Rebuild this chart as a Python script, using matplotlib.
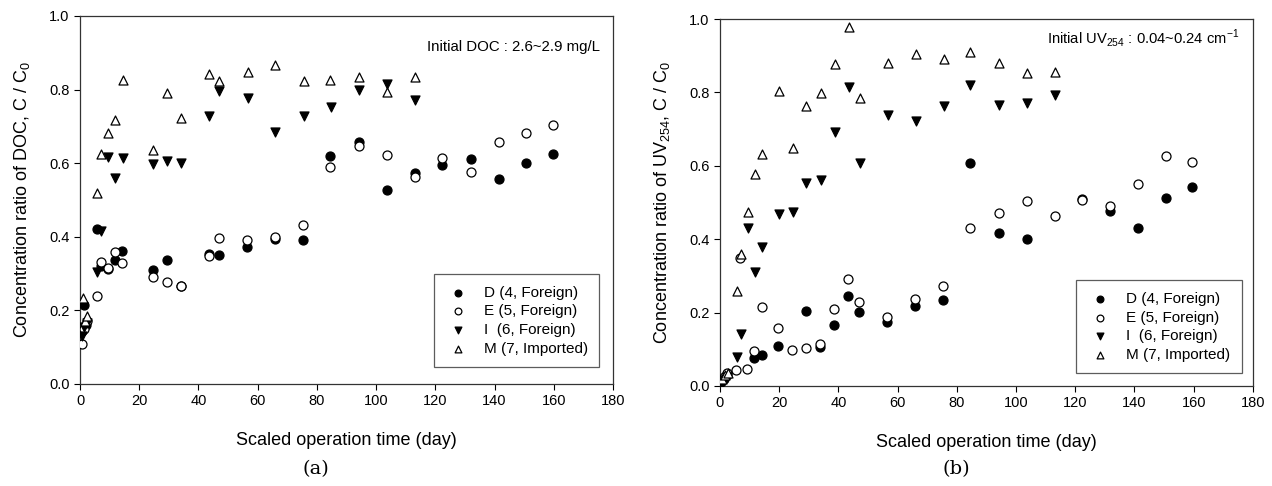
"""
DOC and UV254 concentration ratio vs scaled operation time
"""

import matplotlib.pyplot as plt
import numpy as np

plt.rcParams['font.family'] = ['Liberation Sans', 'DejaVu Sans']
plt.rcParams['mathtext.fontset'] = 'custom'
plt.rcParams['mathtext.rm'] = 'Liberation Sans'

############### Data (a) DOC ################
doc_d_day = [0.8, 1.2, 2.0, 5.6, 7.1, 9.5, 11.8, 14.3, 24.7, 29.4, 34.0, 43.4, 47.0, 56.5, 66.0, 75.3,
             84.5, 94.3, 103.8, 113.1, 122.1, 131.9, 141.4, 150.6, 159.6]
doc_d = [0.145, 0.215, 0.16, 0.421, 0.32, 0.312, 0.338, 0.362, 0.31, 0.336, 0.266, 0.354, 0.35, 0.372, 0.393, 0.392,
         0.62, 0.658, 0.527, 0.572, 0.595, 0.611, 0.557, 0.601, 0.625]

doc_e_day = [0.7, 1.5, 2.2, 5.6, 7.1, 9.5, 11.8, 14.3, 24.7, 29.4, 34.0, 43.4, 47.0, 56.5, 66.0, 75.3,
             84.5, 94.3, 103.8, 113.1, 122.1, 131.9, 141.4, 150.6, 159.6]
doc_e = [0.109, 0.15, 0.17, 0.239, 0.332, 0.315, 0.36, 0.33, 0.292, 0.276, 0.265, 0.347, 0.397, 0.39, 0.40, 0.432,
         0.59, 0.647, 0.622, 0.562, 0.613, 0.577, 0.658, 0.683, 0.704]

doc_i_day = [0.8, 1.5, 2.2, 5.6, 7.1, 9.5, 11.9, 14.4, 24.7, 29.5, 34.2, 43.5, 47.1, 56.7, 66.0, 75.5,
             84.7, 94.3, 103.8, 113.1]
doc_i = [0.13, 0.155, 0.165, 0.305, 0.415, 0.618, 0.559, 0.613, 0.598, 0.606, 0.60, 0.728, 0.796, 0.776, 0.685, 0.729,
         0.752, 0.799, 0.815, 0.772]

doc_m_day = [1.0, 1.8, 2.3, 5.7, 7.1, 9.5, 11.9, 14.4, 24.7, 29.5, 34.2, 43.5, 47.1, 56.7, 66.0, 75.5,
             84.5, 94.3, 103.8, 113.1]
doc_m = [0.235, 0.17, 0.185, 0.52, 0.625, 0.681, 0.717, 0.826, 0.636, 0.79, 0.722, 0.842, 0.822, 0.847, 0.867, 0.822,
         0.826, 0.835, 0.794, 0.835]

############### Data (b) UV254 ################
uv_d_day = [0.5, 1.5, 2.5, 11.6, 14.1, 19.7, 29.0, 33.9, 38.5, 43.3, 47.0, 56.4, 65.8, 75.3,
            84.3, 94.1, 103.6, 122.2, 131.8, 141.2, 150.6, 159.4]
uv_d = [0.01, 0.02, 0.03, 0.077, 0.084, 0.109, 0.204, 0.107, 0.167, 0.244, 0.202, 0.174, 0.217, 0.235,
        0.607, 0.418, 0.40, 0.51, 0.478, 0.43, 0.511, 0.543]

uv_e_day = [0.5, 1.5, 2.5, 5.4, 6.8, 9.3, 11.6, 14.1, 19.7, 24.5, 29.0, 33.9, 38.5, 43.3, 47.0, 56.4, 65.8, 75.3,
            84.3, 94.1, 103.6, 113.0, 122.2, 131.8, 141.2, 150.8, 159.3]
uv_e = [0.015, 0.025, 0.035, 0.044, 0.35, 0.047, 0.096, 0.214, 0.157, 0.098, 0.103, 0.114, 0.209, 0.292, 0.228, 0.187,
        0.236, 0.272, 0.43, 0.472, 0.505, 0.463, 0.507, 0.49, 0.55, 0.627, 0.611]

uv_i_day = [0.5, 1.5, 2.5, 5.6, 7.1, 9.5, 11.8, 14.1, 19.9, 24.7, 29.2, 34.0, 38.8, 43.6, 47.2, 56.7, 66.1, 75.5,
            84.3, 94.1, 103.7, 113.2]
uv_i = [0.005, 0.015, 0.025, 0.078, 0.142, 0.431, 0.311, 0.38, 0.47, 0.473, 0.552, 0.561, 0.693, 0.814, 0.608, 0.738,
        0.723, 0.763, 0.82, 0.766, 0.772, 0.793]

uv_m_day = [0.7, 1.7, 2.6, 5.8, 7.1, 9.5, 11.8, 14.1, 20.0, 24.7, 29.2, 34.0, 38.8, 43.6, 47.2, 56.7, 66.1, 75.5,
            84.3, 94.1, 103.7, 113.2]
uv_m = [0.02, 0.03, 0.036, 0.259, 0.36, 0.475, 0.578, 0.632, 0.804, 0.649, 0.763, 0.797, 0.877, 0.979, 0.786, 0.881,
        0.905, 0.89, 0.911, 0.881, 0.852, 0.856]

labels = ["D (4, Foreign)", "E (5, Foreign)", "I  (6, Foreign)", "M (7, Imported)"]

############### Plot ################
fig = plt.figure(figsize=(12.72, 4.86), dpi=100)
ax1 = fig.add_axes([0.0629, 0.2099, 0.4190, 0.7572])
ax2 = fig.add_axes([0.5660, 0.2058, 0.4190, 0.7551])


def draw(ax, d, e, i, m, leg_anchor):
    ms = 42
    ax.scatter(d[0], d[1], s=ms, marker='o', facecolor='black', edgecolor='black', linewidth=0.9, label=labels[0], zorder=3)
    ax.scatter(e[0], e[1], s=ms, marker='o', facecolor='white', edgecolor='black', linewidth=0.9, label=labels[1], zorder=3)
    ax.scatter(i[0], i[1], s=ms, marker='v', facecolor='black', edgecolor='black', linewidth=0.9, label=labels[2], zorder=3)
    ax.scatter(m[0], m[1], s=ms, marker='^', facecolor='white', edgecolor='black', linewidth=0.9, label=labels[3], zorder=3)
    ax.set_xlim(0, 180)
    ax.set_ylim(0, 1.0)
    ax.set_xticks(np.arange(0, 181, 20))
    ax.set_yticks(np.arange(0, 1.01, 0.2))
    ax.set_yticklabels([f"{v:.1f}" for v in np.arange(0, 1.01, 0.2)])
    ax.tick_params(direction='out', length=4, width=0.8, labelsize=10.5, colors='black')
    for s in ax.spines.values():
        s.set_linewidth(0.9)
        s.set_color('#333333')
    ax.set_xlabel("Scaled operation time (day)", fontsize=13, labelpad=17)
    leg = ax.legend(loc='lower right', bbox_to_anchor=leg_anchor, borderaxespad=0, fontsize=11, frameon=True,
                    fancybox=False, edgecolor='#333333', markerscale=0.75, handletextpad=0.9, labelspacing=0.3,
                    borderpad=0.75, handlelength=1.6)
    leg.get_frame().set_linewidth(0.9)


draw(ax1, (doc_d_day, doc_d), (doc_e_day, doc_e), (doc_i_day, doc_i), (doc_m_day, doc_m), (0.974, 0.046))
ax1.set_ylabel("Concentration ratio of DOC, C / C$_0$", fontsize=13, labelpad=12)
ax1.text(0.975, 0.917, "Initial DOC : 2.6~2.9 mg/L", transform=ax1.transAxes, ha='right', va='center', fontsize=10.8)

draw(ax2, (uv_d_day, uv_d), (uv_e_day, uv_e), (uv_i_day, uv_i), (uv_m_day, uv_m), (0.979, 0.035))
ax2.set_ylabel("Concentration ratio of UV$_{254}$, C / C$_0$", fontsize=13, labelpad=12)
ax2.text(0.975, 0.948, "Initial UV$_{254}$ : 0.04~0.24 cm$^{-1}$", transform=ax2.transAxes, ha='right', va='center',
         fontsize=10.6)

fig.text(0.2484, 0.035, "(a)", ha='center', va='center', fontsize=14, family='DejaVu Serif')
fig.text(0.7516, 0.035, "(b)", ha='center', va='center', fontsize=14, family='DejaVu Serif')

plt.savefig("out.png", dpi=100)
